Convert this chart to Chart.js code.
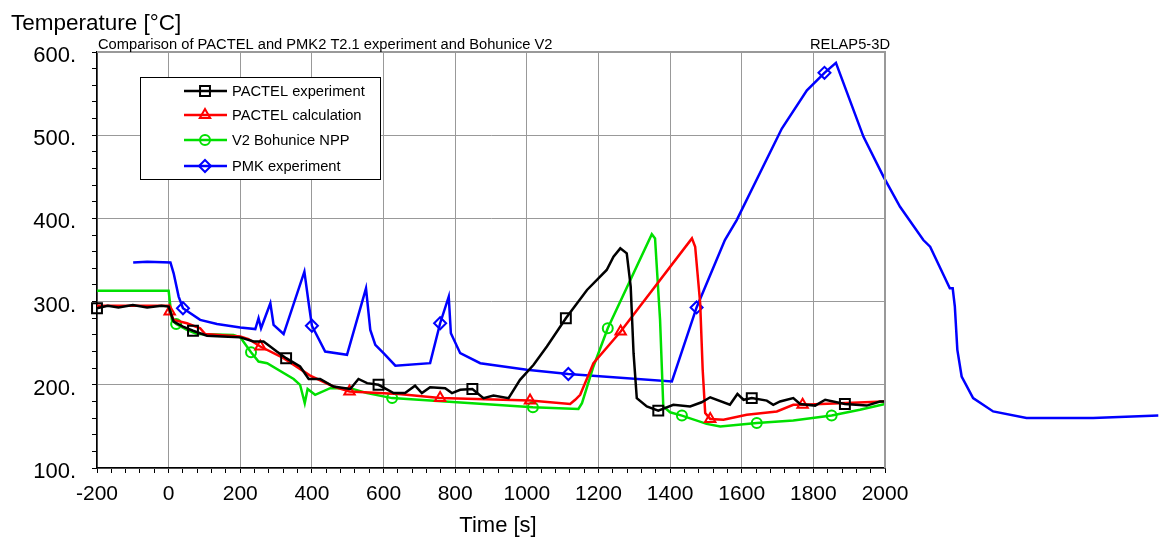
<!DOCTYPE html>
<html>
<head>
<meta charset="utf-8">
<script src="https://cdn.jsdelivr.net/npm/chart.js@4/dist/chart.umd.min.js"></script>
<style>
  body { margin: 0; background: #fff; }
</style>
</head>
<body>
<canvas id="chart1" width="1159" height="537"></canvas>
<script>
const ctx = document.getElementById('chart1');
const FONT = 'Liberation Sans, Arial, sans-serif';

// PACTEL experiment
const pactelExpTime = [-200, -170, -140, -100, -60, -20, 0, 14, 40, 68, 107, 150, 200, 237, 265, 302, 328, 367, 391, 423, 460, 507, 530, 554, 586, 628, 660, 688, 707, 730, 772, 791, 814, 848, 879, 907, 949, 981, 1019, 1056, 1109, 1168, 1223, 1242, 1261, 1279, 1290, 1298, 1307, 1335, 1367, 1409, 1456, 1488, 1512, 1567, 1588, 1605, 1628, 1670, 1688, 1707, 1744, 1763, 1805, 1833, 1888, 1949, 1986, 2000];
const pactelExpTemp = [292, 295, 293, 296, 293, 295, 294, 276, 270, 265, 259, 258, 257, 252, 252, 240, 232, 222, 207, 207, 198, 195, 207, 202, 200, 190, 190, 199, 190, 197, 196, 190, 194, 195, 184, 187, 184, 206, 224, 246, 280, 314, 338, 354, 364, 358, 318, 238, 184, 174, 169, 176, 174, 179, 185, 176, 189, 182, 184, 181, 176, 180, 184, 177, 175, 182, 177, 175, 180, 180];
const pactelExpMarks = [-200, 68, 328, 586, 848, 1109, 1367, 1628, 1888];

// PACTEL calculation
const pactelCalcTime = [-200, -100, 0, 3, 14, 51, 88, 102, 200, 223, 256, 321, 395, 460, 505, 642, 758, 1009, 1121, 1135, 1149, 1186, 1262, 1461, 1470, 1484, 1491, 1498, 1512, 1549, 1614, 1698, 1744, 1770, 1995, 2000];
const pactelCalcTemp = [295, 295, 295, 288, 278, 274, 268, 261, 258, 255, 246, 232, 211, 198, 192, 189, 184, 181, 177, 182, 188, 226, 264, 376, 366, 298, 218, 166, 159, 158, 164, 168, 176, 176, 180, 180];
const pactelCalcMarks = [3, 256, 505, 758, 1009, 1262, 1512, 1770];

// V2 Bohunice NPP
const bohuniceTime = [-200, 0, 5, 9, 21, 51, 79, 181, 200, 230, 251, 275, 349, 367, 380, 388, 409, 451, 507, 554, 624, 1017, 1144, 1154, 1186, 1226, 1349, 1358, 1372, 1381, 1400, 1433, 1502, 1540, 1642, 1744, 1851, 1930, 2000];
const bohuniceTemp = [313, 313, 294, 278, 273, 266, 261, 260, 257, 239, 228, 226, 207, 200, 178, 195, 188, 196, 196, 190, 184, 173, 171, 178, 222, 268, 381, 376, 278, 174, 167, 163, 153, 150, 154, 157, 163, 170, 177];
const bohuniceMarks = [21, 230, 624, 1017, 1226, 1433, 1642, 1851];

// PMK experiment
const pmkTime = [-99, -60, 5, 14, 28, 40, 88, 135, 200, 242, 251, 258, 284, 293, 321, 379, 391, 400, 437, 498, 551, 563, 577, 600, 633, 730, 758, 782, 788, 814, 870, 1000, 1116, 1405, 1474, 1553, 1586, 1712, 1782, 1831, 1863, 1940, 1996, 2042, 2107, 2126, 2181, 2189, 2195, 2202, 2214, 2246, 2302, 2395, 2581, 2763];
const pmkTemp = [347, 348, 347, 334, 306, 292, 278, 273, 269, 267, 280, 268, 298, 272, 261, 336, 298, 271, 240, 236, 316, 266, 248, 238, 223, 226, 274, 306, 262, 238, 226, 218, 213, 204, 293, 374, 398, 508, 554, 575, 587, 498, 450, 414, 374, 366, 316, 316, 294, 242, 210, 184, 168, 160, 160, 163];
const pmkMarks = [40, 400, 758, 1116, 1474, 1831];

const toPoints = (xs, ys) => xs.map((x, i) => ({x: x, y: ys[i]}));

const series = [
  {label: 'PACTEL experiment', time: pactelExpTime, temp: pactelExpTemp, marks: pactelExpMarks, color: '#000000', style: 'rect', r: 7},
  {label: 'PACTEL calculation', time: pactelCalcTime, temp: pactelCalcTemp, marks: pactelCalcMarks, color: '#ff0000', style: 'triangle', r: 6},
  {label: 'V2 Bohunice NPP', time: bohuniceTime, temp: bohuniceTemp, marks: bohuniceMarks, color: '#00e000', style: 'circle', r: 5},
  {label: 'PMK experiment', time: pmkTime, temp: pmkTemp, marks: pmkMarks, color: '#0000ff', style: 'rectRot', r: 6}
];

const createDataset = (s) => ({
  label: s.label,
  data: toPoints(s.time, s.temp),
  borderColor: s.color,
  borderWidth: 2.5,
  tension: 0,
  fill: false,
  clip: s.label === 'PMK experiment' ? false : undefined,
  pointStyle: s.style,
  pointRadius: (c) => s.marks.includes(c.raw.x) ? s.r : 0,
  pointBorderWidth: 2,
  pointBorderColor: s.color,
  pointBackgroundColor: 'rgba(0,0,0,0)',
  pointHoverRadius: 0
});

function drawMarker(g, style, x, y, r) {
  g.beginPath();
  if (style === 'rect') {
    const h = r * Math.SQRT1_2;
    g.rect(x - h, y - h, 2 * h, 2 * h);
  } else if (style === 'triangle') {
    g.moveTo(x, y - r);
    g.lineTo(x + r * 0.866, y + r * 0.5);
    g.lineTo(x - r * 0.866, y + r * 0.5);
    g.closePath();
  } else if (style === 'circle') {
    g.arc(x, y, r, 0, Math.PI * 2);
  } else {
    g.moveTo(x, y - r);
    g.lineTo(x + r, y);
    g.lineTo(x, y + r);
    g.lineTo(x - r, y);
    g.closePath();
  }
  g.stroke();
}

const decorations = {
  id: 'decorations',
  afterDraw(chart) {
    const g = chart.ctx;
    const a = chart.chartArea;
    g.save();
    // grey frame on top and right
    g.strokeStyle = '#999';
    g.lineWidth = 2;
    g.beginPath();
    g.moveTo(a.left, a.top);
    g.lineTo(a.right, a.top);
    g.lineTo(a.right, a.bottom);
    g.stroke();

    g.fillStyle = '#000';
    g.textBaseline = 'alphabetic';
    g.font = '22.5px ' + FONT;
    g.textAlign = 'left';
    g.fillText('Temperature [°C]', 11, 30);
    g.font = '22px ' + FONT;
    g.textAlign = 'center';
    g.fillText('Time [s]', 498, 532);

    g.font = '14.7px ' + FONT;
    g.textAlign = 'left';
    g.fillText('Comparison of PACTEL and PMK2 T2.1 experiment and Bohunice V2', 98, 49);
    g.textAlign = 'right';
    g.fillText('RELAP5-3D', 890, 49);

    // legend box
    g.fillStyle = '#fff';
    g.fillRect(140, 77, 240, 102);
    g.strokeStyle = '#000';
    g.lineWidth = 1;
    g.strokeRect(140.5, 77.5, 240, 102);
    const rows = [91, 115, 140, 166];
    series.forEach((s, i) => {
      const y = rows[i];
      g.strokeStyle = s.color;
      g.lineWidth = 2.5;
      g.beginPath();
      g.moveTo(184, y);
      g.lineTo(227, y);
      g.stroke();
      g.lineWidth = 2;
      drawMarker(g, s.style, 205, y, s.r);
      g.fillStyle = '#000';
      g.font = '14.7px ' + FONT;
      g.textAlign = 'left';
      g.textBaseline = 'middle';
      g.fillText(s.label, 232, y + 1);
    });
    g.restore();
  }
};

const config = {
  type: 'line',
  data: {datasets: series.map(createDataset)},
  options: {
    responsive: false,
    animation: false,
    events: [],
    layout: {padding: {left: 0, top: 52, right: 274, bottom: 0}},
    plugins: {legend: {display: false}, tooltip: {enabled: false}},
    scales: {
      x: {
        type: 'linear',
        afterDataLimits: (s) => { s.min = -200; s.max = 2000; },
        afterFit: (s) => { s.height = 69; },
        ticks: {
          stepSize: 40,
          autoSkip: false,
          maxRotation: 0,
          padding: 9,
          color: '#000',
          font: {family: FONT, size: 21},
          callback: (v) => v % 200 === 0 ? String(v) : ''
        },
        grid: {
          color: (c) => c.tick && c.tick.value % 200 === 0 ? '#999' : 'rgba(0,0,0,0)',
          tickColor: '#000',
          tickLength: 5,
          lineWidth: 1
        },
        border: {color: '#000', width: 1.5}
      },
      y: {
        min: 100,
        max: 600,
        afterFit: (s) => { s.width = 97; },
        ticks: {
          stepSize: 20,
          autoSkip: false,
          padding: 16,
          labelOffset: 4,
          color: '#000',
          font: {family: FONT, size: 22},
          callback: (v) => v % 100 === 0 ? v + '.' : ''
        },
        grid: {
          color: (c) => c.tick && c.tick.value % 100 === 0 ? '#999' : 'rgba(0,0,0,0)',
          tickColor: '#000',
          tickLength: 5,
          lineWidth: 1
        },
        border: {color: '#000', width: 1.5}
      }
    }
  },
  plugins: [decorations]
};

var curChart = new Chart(ctx, config);
</script>
</body>
</html>
